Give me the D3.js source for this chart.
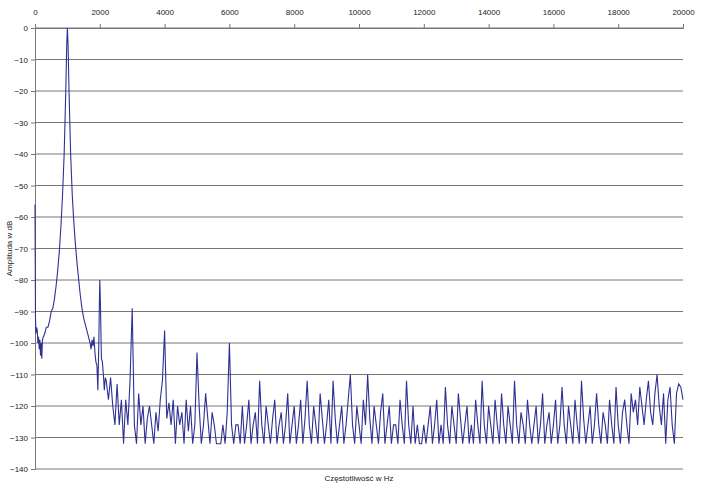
<!doctype html>
<html>
<head>
<meta charset="utf-8">
<script src="https://d3js.org/d3.v7.min.js"></script>
<style>
  body { margin: 0; background: #fff; }
  text { font-family: "Liberation Sans", Arial, sans-serif; }
</style>
</head>
<body>
<div id="chart"></div>
<script>
// low-frequency part: fundamental at 1 kHz and 2nd harmonic
const lowFreq = [0, 15, 30, 50, 70, 90, 110, 130, 150, 170, 190, 210, 230, 260, 300, 350, 400, 450, 500, 550, 600, 650, 700, 750, 800, 850, 900, 950, 980, 1000,
  1020, 1050, 1100, 1150, 1200, 1250, 1300, 1350, 1400, 1450, 1500, 1550, 1600, 1650, 1700, 1730, 1760, 1790, 1820, 1850, 1880, 1910, 1940, 1970, 1990, 2000, 2020, 2050, 2080, 2110, 2140, 2170];
const lowAmp = [-56, -92, -97, -95, -96, -100, -98, -102, -99, -104, -100, -105, -99, -98, -97, -95, -95, -93, -90, -89, -86, -82, -77, -71, -63, -53, -40, -20, -5, 0,
  -5, -20, -40, -53, -62, -69, -75, -80, -85, -89, -92, -94, -96, -98, -100, -102, -99, -101, -98, -103, -106, -107, -115, -100, -85, -80, -88, -105, -106, -110, -115, -111];

// noise floor from 2200 Hz onward, one bin every 200/3 Hz
const noiseStart = 2200;
const binHz = 200 / 3;
const noiseAmp = [
  -112, -118, -111, -120, -126, -113, -126, -118, -132, -118, -126, -112, -89,
  -126, -132, -116, -126, -120, -132, -124, -120, -126, -132, -122, -128, -118, -112, -96,
  -124, -119, -126, -118, -132, -120, -126, -122, -132, -118, -128, -120, -132, -126, -103,
  -120, -132, -126, -116, -124, -132, -122, -126, -132, -132, -132, -126, -132, -122, -100,
  -126, -132, -126, -126, -132, -120, -132, -126, -118, -132, -126, -122, -132, -112, -126, -132, -120, -126, -132, -124, -118, -132, -126, -122, -132, -126, -116, -132, -126, -120,
  -132, -126, -118, -132, -124, -112, -126, -132, -120, -126, -132, -116, -124, -132, -126, -118, -132, -112, -124, -132, -126, -120, -132, -126, -118, -110, -126, -132, -120, -126,
  -132, -118, -126, -110, -124, -132, -120, -126, -132, -122, -116, -132, -126, -120, -132, -126, -126, -132, -118, -126, -132, -112, -126, -132, -120, -132, -126, -132, -132, -126,
  -132, -126, -120, -132, -126, -118, -132, -126, -132, -114, -126, -132, -120, -126, -132, -116, -124, -132, -126, -120, -132, -126, -132, -118, -126, -132, -112, -126, -132, -120,
  -126, -132, -118, -126, -132, -116, -126, -132, -120, -126, -132, -112, -126, -132, -122, -126, -132, -118, -126, -132, -126, -120, -132, -126, -116, -132, -126, -122, -132, -126,
  -118, -132, -126, -114, -126, -132, -120, -126, -132, -118, -126, -132, -112, -124, -132, -126, -120, -132, -126, -116, -126, -132, -122, -126, -132, -118, -126, -132, -114, -126,
  -132, -122, -118, -126, -132, -116, -122, -118, -126, -114, -120, -126, -118, -112, -122, -126, -116, -110, -120, -126, -116, -132, -118, -114, -126, -132, -116, -113, -114, -118
];

const xTicks = [0, 2000, 4000, 6000, 8000, 10000, 12000, 14000, 16000, 18000, 20000];
const yTicks = [0, -10, -20, -30, -40, -50, -60, -70, -80, -90, -100, -110, -120, -130, -140];

const data = lowFreq.map((f, i) => [f, lowAmp[i]])
  .concat(noiseAmp.map((a, i) => [noiseStart + i * binHz, a]));

const W = 705, H = 485;
const m = {left: 35, right: 22, top: 28, bottom: 16};

const svg = d3.select("#chart").append("svg").attr("width", W).attr("height", H);

const x = d3.scaleLinear().domain([0, 20000]).range([m.left, W - m.right]);
const y = d3.scaleLinear().domain([-140, 0]).range([H - m.bottom, m.top]);

// horizontal grid
svg.append("g").selectAll("line").data(yTicks.filter(d => d !== -140)).enter().append("line")
  .attr("x1", x(0)).attr("x2", x(20000))
  .attr("y1", d => y(d)).attr("y2", d => y(d))
  .attr("stroke", "#777").attr("stroke-width", 1);

svg.append("line")
  .attr("x1", x(0)).attr("x2", x(20000))
  .attr("y1", y(-140)).attr("y2", y(-140))
  .attr("stroke", "#777");

const yAxis = svg.append("g")
  .attr("transform", "translate(" + x(0) + ",0)")
  .call(d3.axisLeft(y).tickValues(yTicks).tickSize(4).tickPadding(3));
yAxis.selectAll("text").attr("font-size", 8).attr("fill", "#222");
yAxis.selectAll("line, path").attr("stroke", "#777");

const xAxis = svg.append("g")
  .attr("transform", "translate(0," + y(0) + ")")
  .call(d3.axisTop(x).tickValues(xTicks).tickFormat(d3.format("d")).tickSize(4).tickPadding(9));
xAxis.selectAll("text").attr("font-size", 8).attr("fill", "#222");
xAxis.selectAll("line, path").attr("stroke", "#777");

svg.append("path")
  .datum(data)
  .attr("fill", "none")
  .attr("stroke", "#2e3192")
  .attr("stroke-width", 1.1)
  .attr("d", d3.line().x(d => x(d[0])).y(d => y(d[1])));

svg.append("text")
  .attr("x", (x(0) + x(20000)) / 2).attr("y", H - 4)
  .attr("text-anchor", "middle").attr("font-size", 8).attr("fill", "#222")
  .text("Częstotliwość w Hz");

svg.append("text")
  .attr("transform", "translate(12," + (y(-70)) + ") rotate(-90)")
  .attr("text-anchor", "middle").attr("font-size", 8).attr("fill", "#222")
  .text("Amplituda w dB");
</script>
</body>
</html>
